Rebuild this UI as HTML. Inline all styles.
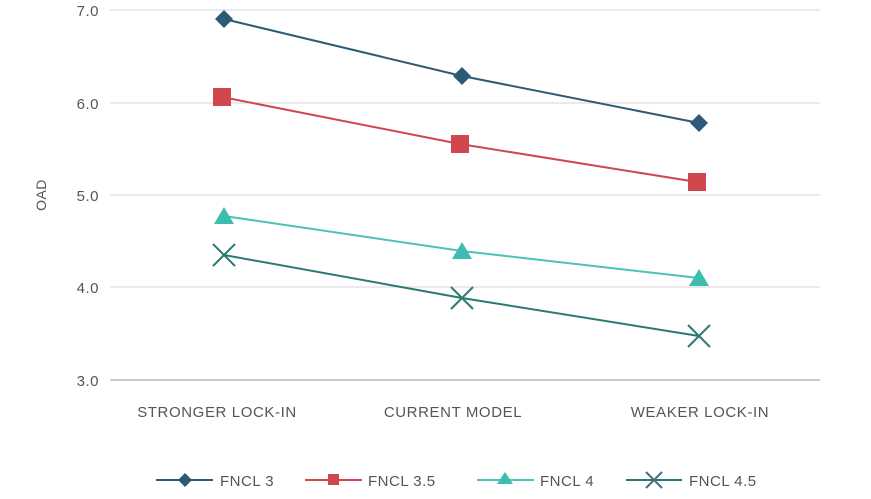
<!DOCTYPE html>
<html><head><style>body{margin:0;background:#fff}svg{display:block;font-family:"Liberation Sans",sans-serif}</style></head>
<body>
<svg width="871" height="499" viewBox="0 0 871 499">
<g stroke="#e3e3e3" stroke-width="1.5">
<line x1="110" y1="10" x2="820" y2="10"/><line x1="110" y1="103" x2="820" y2="103"/>
<line x1="110" y1="195" x2="820" y2="195"/><line x1="110" y1="287" x2="820" y2="287"/>
</g>
<line x1="110" y1="380" x2="820" y2="380" stroke="#bbb" stroke-width="1.5"/>
<g fill="#555" font-size="15" text-anchor="end" letter-spacing="0.5">
<text x="99" y="16">7.0</text><text x="99" y="109">6.0</text><text x="99" y="201">5.0</text><text x="99" y="293">4.0</text><text x="99" y="386">3.0</text>
</g>
<text transform="translate(46,195) rotate(-90)" fill="#555" font-size="14" text-anchor="middle" letter-spacing="0.5">OAD</text>
<g fill="#555" font-size="15" text-anchor="middle" letter-spacing="0.6">
<text x="217" y="417">STRONGER LOCK-IN</text><text x="453" y="417">CURRENT MODEL</text><text x="700" y="417">WEAKER LOCK-IN</text>
</g>
<polyline points="224,19 462,76 699,123" fill="none" stroke="#2e5a78" stroke-width="2"/>
<polyline points="222,97 460,144 697,182" fill="none" stroke="#d0474d" stroke-width="2"/>
<polyline points="224,216 462,251 699,278" fill="none" stroke="#4cc3b8" stroke-width="2"/>
<polyline points="224,255 462,298 699,336" fill="none" stroke="#2a7a72" stroke-width="2"/>
<g fill="#2e5a78"><path d="M224,10l9,9l-9,9l-9,-9z"/><path d="M462,67l9,9l-9,9l-9,-9z"/><path d="M699,114l9,9l-9,9l-9,-9z"/></g>
<g fill="#d0474d"><rect x="213" y="88" width="18" height="18"/><rect x="451" y="135" width="18" height="18"/><rect x="688" y="173" width="18" height="18"/></g>
<g fill="#3fbcb0"><path d="M224,207l10,17h-20z"/><path d="M462,242l10,17h-20z"/><path d="M699,269l10,17h-20z"/></g>
<g stroke="#2a7a72" stroke-width="2"><path d="M213,244l22,22M235,244l-22,22"/><path d="M451,287l22,22M473,287l-22,22"/><path d="M688,325l22,22M710,325l-22,22"/></g>
<g font-size="15" fill="#555" letter-spacing="0.5">
<line x1="156" y1="480" x2="213" y2="480" stroke="#2e5a78" stroke-width="2"/><path d="M185,473l7,7l-7,7l-7,-7z" fill="#2e5a78"/><text x="220" y="486">FNCL 3</text>
<line x1="305" y1="480" x2="362" y2="480" stroke="#d0474d" stroke-width="2"/><rect x="328" y="474" width="11" height="11" fill="#d0474d"/><text x="368" y="486">FNCL 3.5</text>
<line x1="477" y1="480" x2="534" y2="480" stroke="#4cc3b8" stroke-width="2"/><path d="M505,472l8,12h-16z" fill="#3fbcb0"/><text x="540" y="486">FNCL 4</text>
<line x1="626" y1="480" x2="682" y2="480" stroke="#2a7a72" stroke-width="2"/><path d="M646,472l16,16M662,472l-16,16" stroke="#4a6c80" stroke-width="2"/><text x="689" y="486">FNCL 4.5</text>
</g>
</svg>
</body></html>
